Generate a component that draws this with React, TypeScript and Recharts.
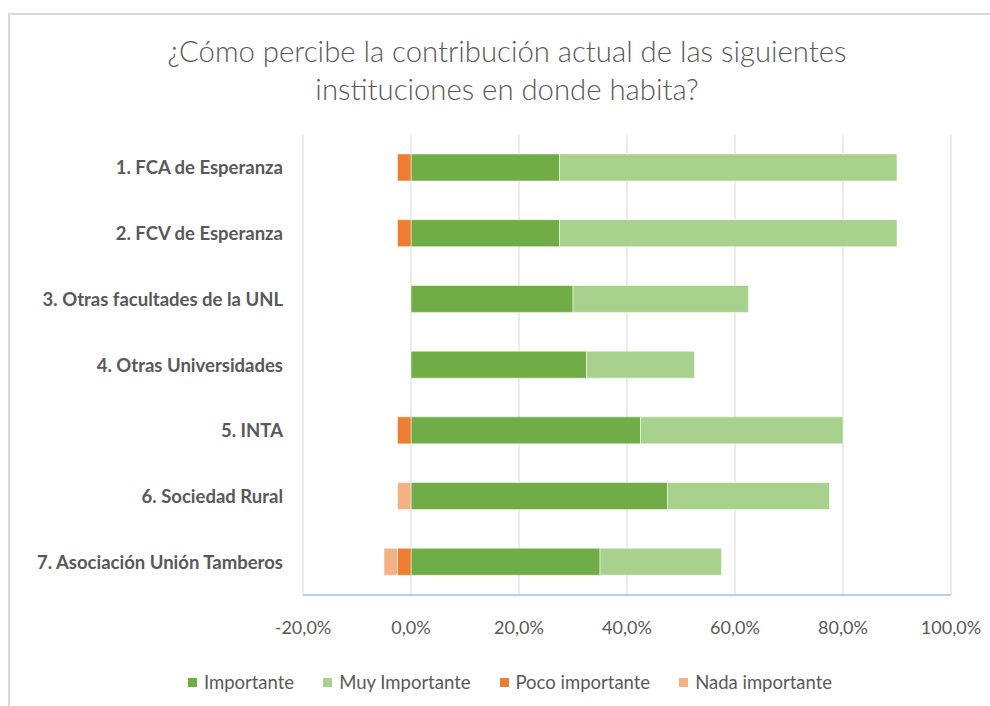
import React from "react";
import { BarChart, Bar, XAxis, YAxis, CartesianGrid } from "recharts";

const categories = [
  "1. FCA de Esperanza",
  "2. FCV de Esperanza",
  "3. Otras facultades de la UNL",
  "4. Otras Universidades",
  "5. INTA",
  "6. Sociedad Rural",
  "7. Asociación Unión Tamberos",
];
const importante = [27.5, 27.5, 30, 32.5, 42.5, 47.5, 35];
const muyImportante = [62.5, 62.5, 32.5, 20, 37.5, 30, 22.5];
const pocoImportante = [-2.5, -2.5, 0, 0, -2.5, 0, -2.5];
const nadaImportante = [0, 0, 0, 0, 0, -2.5, -2.5];
const xTicks = [-20, 0, 20, 40, 60, 80, 100];

const series = [
  { key: "imp", name: "Importante", color: "#70ad47", values: importante },
  { key: "muy", name: "Muy Importante", color: "#a9d18e", values: muyImportante },
  { key: "poco", name: "Poco importante", color: "#ed7d31", values: pocoImportante },
  { key: "nada", name: "Nada importante", color: "#f4b183", values: nadaImportante },
];

const data = categories.map((c, i) => {
  const row: Record<string, any> = { name: c };
  series.forEach((s) => (row[s.key] = s.values[i]));
  return row;
});

const FONT = "Lato, 'Open Sans', sans-serif";
const TEXT = "#595959";

const fmt = (v: number) => v.toFixed(1).replace(".", ",") + "%";

export default function App() {
  return (
    <div
      style={{
        position: "fixed",
        left: 0,
        top: 0,
        width: 990,
        height: 706,
        overflow: "hidden",
        background: "#fff",
        fontFamily: FONT,
      }}
    >
      <div
        style={{
          position: "absolute",
          left: 8,
          top: 13,
          width: 1010,
          height: 720,
          border: "2px solid #d9d9d9",
          boxSizing: "border-box",
        }}
      />
      <div
        style={{
          position: "absolute",
          left: 7,
          top: 32,
          width: 1000,
          textAlign: "center",
          fontSize: 29.3,
          lineHeight: "38px",
          color: TEXT,
          fontWeight: 300,
        }}
      >
        ¿Cómo percibe la contribución actual de las siguientes
        <br />
        instituciones en donde habita?
      </div>
      <div style={{ position: "absolute", left: 0, top: 0 }}>
        <BarChart
          width={990}
          height={706}
          data={data}
          layout="vertical"
          stackOffset="sign"
          barSize={27}
          margin={{ top: 135, right: 39, bottom: 71, left: 0 }}
        >
          <CartesianGrid horizontal={false} stroke="#d9d9d9" strokeWidth={1} />
          <XAxis
            type="number"
            domain={[-20, 100]}
            ticks={xTicks}
            tickFormatter={fmt}
            height={40}
            axisLine={{ stroke: "#9dc3e6", strokeWidth: 1.5 }}
            tickLine={false}
            tickSize={0}
            tickMargin={26}
            tick={{ fill: TEXT, fontSize: 18, fontFamily: FONT }}
            allowDataOverflow
          />
          <YAxis
            type="category"
            dataKey="name"
            width={303}
            axisLine={false}
            tickLine={false}
            tickSize={0}
            tickMargin={20}
            tick={{ fill: TEXT, fontSize: 18.5, fontWeight: 700, fontFamily: FONT }}
          />
          {series.map((s) => (
            <Bar
              key={s.key}
              dataKey={s.key}
              name={s.name}
              stackId="a"
              fill={s.color}
              stroke="#ffffff"
              strokeOpacity={0.5}
              strokeWidth={1}
              isAnimationActive={false}
            />
          ))}
        </BarChart>
      </div>
      <div
        style={{
          position: "absolute",
          left: 10,
          width: 1000,
          top: 671,
          display: "flex",
          justifyContent: "center",
          alignItems: "center",
          gap: 29,
          fontSize: 18.5,
          color: TEXT,
        }}
      >
        {series.map((s) => (
          <div key={s.key} style={{ display: "flex", alignItems: "center" }}>
            <div style={{ width: 9, height: 9, background: s.color, marginRight: 7 }} />
            <span>{s.name}</span>
          </div>
        ))}
      </div>
    </div>
  );
}
